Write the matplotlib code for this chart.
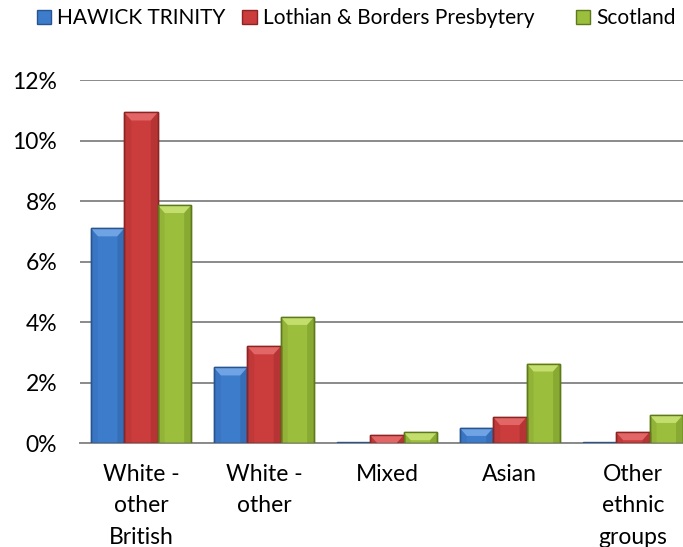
import matplotlib
matplotlib.use("Agg")
from matplotlib import pyplot as plt
from matplotlib.patches import Rectangle
import numpy as np

plt.rcParams['font.family'] = ['Lato', 'DejaVu Sans']

categories = ["White -\nother\nBritish", "White -\nother", "Mixed", "Asian", "Other\nethnic\ngroups"]
series_names = ["HAWICK TRINITY", "Lothian & Borders Presbytery", "Scotland"]
hawick = [7.1, 2.5, 0.03, 0.5, 0.03]
lothian = [10.93, 3.2, 0.26, 0.86, 0.36]
scotland = [7.87, 4.17, 0.36, 2.63, 0.93]

colors = ["#3D7BCB", "#CB3C3C", "#9CBE3D"]
lights = ["#6FA3E3", "#E26666", "#C3DE6C"]
edges = ["#28558f", "#8c2424", "#5c7a1b"]

fig = plt.figure(figsize=(6.83, 5.47), dpi=100)
ax = fig.add_axes([0.1165, 0.19, 0.9, 0.6635])

x = np.arange(len(categories))
w = 0.272
bars = []
for i, (vals, c, e, name) in enumerate(zip([hawick, lothian, scotland], colors, edges, series_names)):
    b = ax.bar(x + (i - 1) * w, vals, width=w, color=c, edgecolor=e, linewidth=1.0,
               label=name, zorder=3)
    bars.append(b)

ax.set_xlim(-0.5, len(categories) - 0.5)
ax.set_ylim(0, 12)

# bevel look: lighter trapezoid on top, darker faces on both sides
dy = 8 * 12 / 363.0
dx = 7 / 123.0
for b, lc, e in zip(bars, lights, edges):
    for p in b.patches:
        x0, h, bw = p.get_x(), p.get_height(), p.get_width()
        if h < 0.1:
            continue
        d = min(dy, h)
        ix = dx * d / dy
        ax.fill([x0, x0 + bw, x0 + bw - ix, x0 + ix], [h, h, h - d, h - d],
                color=lc, zorder=4, linewidth=0)
        ax.fill([x0 + bw - ix, x0 + bw, x0 + bw, x0 + bw - ix], [h - d, h, 0, 0],
                color=e, alpha=0.3, zorder=4, linewidth=0)
        ax.fill([x0, x0 + ix, x0 + ix, x0], [h, h - d, 0, 0],
                color=e, alpha=0.15, zorder=4, linewidth=0)
        ax.add_patch(Rectangle((x0, 0), bw, h, fill=False, edgecolor=e, linewidth=1.0, zorder=5))

ax.set_yticks(np.arange(0, 13, 2))
ax.set_yticklabels([f"{v}%" for v in range(0, 13, 2)], fontsize=16.5)
ax.set_xticks(x)
ax.set_xticklabels(categories, linespacing=1.62, fontsize=16.5)
ax.tick_params(axis='both', length=0, colors="black")
ax.tick_params(axis='x', pad=15)
ax.tick_params(axis='y', pad=16)
ax.grid(axis='y', color="#8a8a8a", linewidth=1.4, zorder=0)
for s in ["top", "right", "left"]:
    ax.spines[s].set_visible(False)
ax.spines["bottom"].set_color("#8a8a8a")
ax.spines["bottom"].set_linewidth(1.4)

# one legend box per series, placed like the original
legend_x = [0.054, 0.355, 0.843]
for b, lx in zip(bars, legend_x):
    fig.legend(handles=[b], loc="upper left", bbox_to_anchor=(lx, 0.985), frameon=False,
               fontsize=15, handlelength=0.68, handleheight=0.68, handletextpad=0.3,
               borderaxespad=0, borderpad=0)

fig.savefig("out.png", dpi=100)
